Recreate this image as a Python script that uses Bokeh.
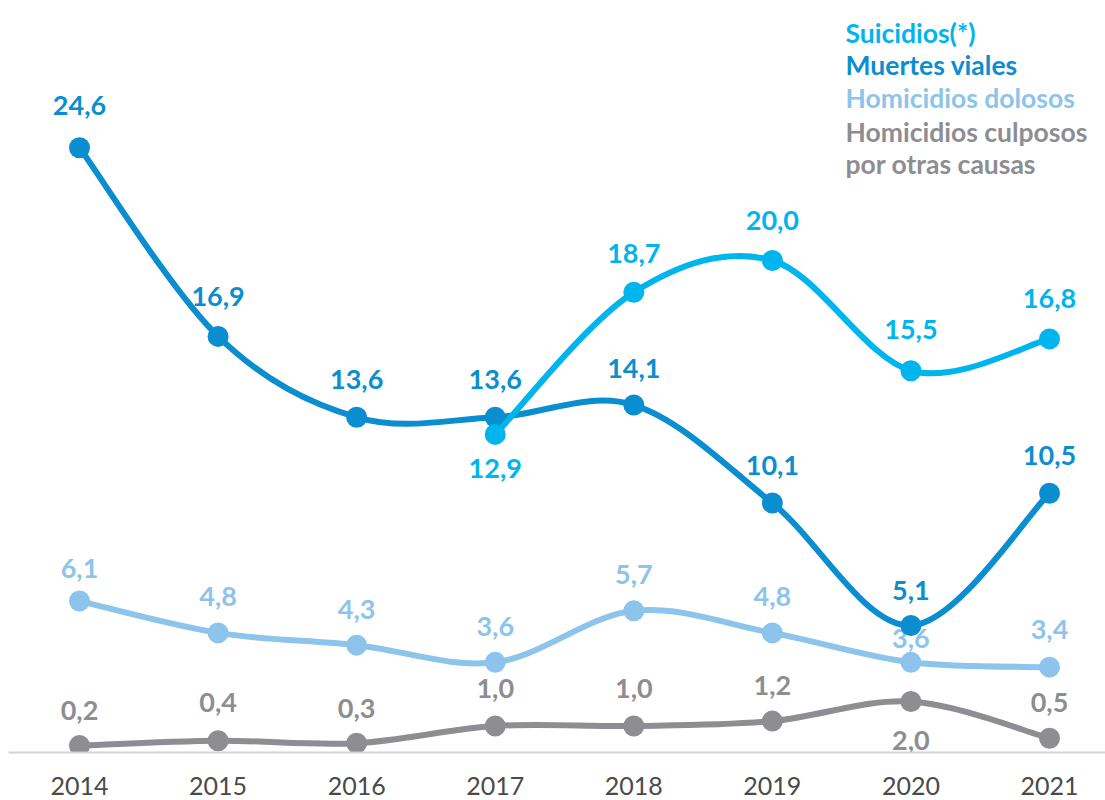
from bokeh.plotting import figure
from bokeh.models import Label, ColumnDataSource, FixedTicker
from bokeh.embed import file_html
from bokeh.resources import INLINE
from bokeh.core.properties import value

# ---- data ----
years = [2014, 2015, 2016, 2017, 2018, 2019, 2020, 2021]
suic_years = [2017, 2018, 2019, 2020, 2021]
suicidios = [12.9, 18.7, 20.0, 15.5, 16.8]
muertes_viales = [24.6, 16.9, 13.6, 13.6, 14.1, 10.1, 5.1, 10.5]
hom_dolosos = [6.1, 4.8, 4.3, 3.6, 5.7, 4.8, 3.6, 3.4]
hom_culposos = [0.2, 0.4, 0.3, 1.0, 1.0, 1.2, 2.0, 0.5]
legend_labels = ["Suicidios(*)", "Muertes viales", "Homicidios dolosos",
                 "Homicidios culposos", "por otras causas"]

# ---- styles ----
C_SUIC = "#00B4EE"
C_MUER = "#0B8ED0"
C_DOLO = "#8DC4EB"
C_CULP = "#8D8D92"
FONT = "Lato"

# label pixel offsets (negative = above point)
off_suic = [34, -39, -40, -41, -40]
off_muer = [-42, -40, -38, -38, -37, -38, -35, -38]
off_dolo = [-33, -36, -36, -36, -36, -36, -24, -38]
off_culp = [-35, -38, -35, -38, -38, -36, 39, -36]

p = figure(width=1105, height=800, output_backend="svg", toolbar_location=None,
           x_range=(2013.4876, 2021.404), y_range=(-0.0816, 30.612),
           min_border_left=8, min_border_right=0, min_border_top=0,
           min_border_bottom=48)
p.outline_line_color = None
p.background_fill_color = "white"
p.grid.visible = False
p.yaxis.visible = False
xa = p.xaxis[0]
xa.ticker = FixedTicker(ticks=years)
xa.major_tick_line_color = None
xa.minor_tick_line_color = None
xa.axis_line_color = "#D4D4D4"
xa.axis_line_width = 2
xa.major_label_text_font = FONT
xa.major_label_text_font_size = "25px"
xa.major_label_text_color = "#4A4A4A"
xa.major_label_standoff = 18


def catmull(xs, ys):
    n = len(xs)
    d = dict(x0=[], y0=[], x1=[], y1=[], cx0=[], cy0=[], cx1=[], cy1=[])
    for i in range(n - 1):
        x0, y0 = xs[max(i - 1, 0)], ys[max(i - 1, 0)]
        x1, y1 = xs[i], ys[i]
        x2, y2 = xs[i + 1], ys[i + 1]
        x3, y3 = xs[min(i + 2, n - 1)], ys[min(i + 2, n - 1)]
        d["x0"].append(x1); d["y0"].append(y1)
        d["x1"].append(x2); d["y1"].append(y2)
        d["cx0"].append(x1 + (x2 - x0) / 6.0); d["cy0"].append(y1 + (y2 - y0) / 6.0)
        d["cx1"].append(x2 - (x3 - x1) / 6.0); d["cy1"].append(y2 - (y3 - y1) / 6.0)
    return ColumnDataSource(d)


def series(xs, ys, color, offs):
    p.bezier(x0="x0", y0="y0", x1="x1", y1="y1", cx0="cx0", cy0="cy0",
             cx1="cx1", cy1="cy1", source=catmull(xs, ys),
             line_color=color, line_width=6, line_cap="round")
    p.scatter(xs, ys, size=21, fill_color=color, line_color=None)
    labels = [("%.1f" % v).replace(".", ",") for v in ys]
    src = ColumnDataSource(dict(x=xs, y=ys, t=labels, o=offs))
    p.text(x="x", y="y", text="t", y_offset="o", source=src,
           text_font=value(FONT), text_font_style="bold",
           text_font_size="27px", text_color=color,
           text_align="center", text_baseline="middle")


series(years, hom_culposos, C_CULP, off_culp)
series(years, hom_dolosos, C_DOLO, off_dolo)
series(years, muertes_viales, C_MUER, off_muer)
series(suic_years, suicidios, C_SUIC, off_suic)

leg_colors = [C_SUIC, C_MUER, C_DOLO, C_CULP, C_CULP]
leg_y = [32, 64, 97, 131, 163]
for txt, col, yy in zip(legend_labels, leg_colors, leg_y):
    p.add_layout(Label(x=845 - 8, y=752 - yy, x_units="screen", y_units="screen",
                       text=txt, text_font=FONT, text_font_style="bold",
                       text_font_size="26.5px", text_color=col,
                       text_baseline="middle", text_align="left"))

open("out.html", "w").write(file_html(p, INLINE))
